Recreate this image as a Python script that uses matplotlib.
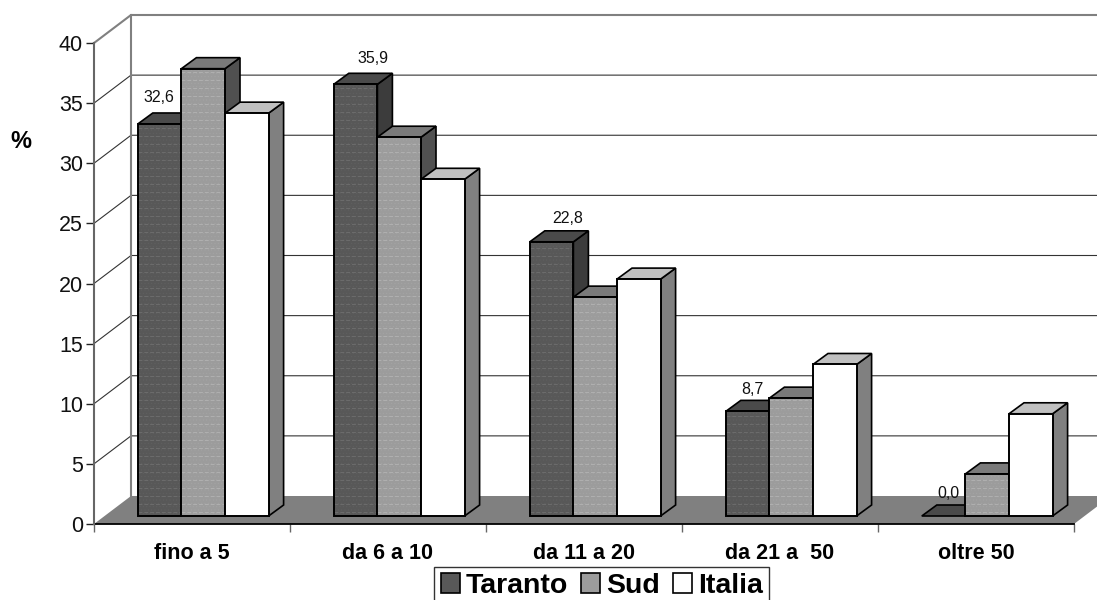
import numpy as np
import matplotlib
matplotlib.use("Agg")
import matplotlib.pyplot as plt
from matplotlib.patches import Polygon, Patch

plt.rcParams['font.family'] = ['Liberation Sans', 'DejaVu Sans']
plt.rcParams['hatch.linewidth'] = 0.35

categories = ['fino a 5', 'da 6 a 10', 'da 11 a 20', 'da 21 a  50', 'oltre 50']
taranto = [32.6, 35.9, 22.8, 8.7, 0.0]
sud = [37.2, 31.5, 18.2, 9.8, 3.5]
italia = [33.5, 28.0, 19.7, 12.6, 8.5]
series_names = ['Taranto', 'Sud', 'Italia']
y_ticks = [0, 5, 10, 15, 20, 25, 30, 35, 40]

# front, top, side colours for each series
face = ['#585858', '#9c9c9c', '#ffffff']
top = ['#4a4a4a', '#7a7a7a', '#c0c0c0']
side = ['#3c3c3c', '#505050', '#808080']
hatch_col = ['#606060', '#a4a4a4', None]
dash_col = ['#6c6c6c', '#b0b0b0', None]

# label nudges in pixels, the original labels are not evenly placed
label_dx = [-1, 17, 16, 5, 5]
label_dy = [26, 26, 23, 22, 23]

W, H = 1097, 600
fig = plt.figure(figsize=(W / 100, H / 100), dpi=100)
ax = fig.add_axes([94 / W, (H - 524) / H, 980 / W, 481 / H])
ax.set_xlim(0, 5)
ax.set_ylim(0, 40)

# pixel sizes to data units
px_x = 5 / 980
px_y = 40 / 481
wall_dx, wall_dy = 37 * px_x, 28 * px_y
base_dx, base_dy = 10 * px_x, 8 * px_y
bar_dx, bar_dy = 15 * px_x, 11 * px_y
bar_w = 43.6 * px_x
group_pad = 33.8 * px_x


def poly(pts, **kw):
    p = Polygon(pts, closed=True, clip_on=False, **kw)
    ax.add_patch(p)
    return p


# floor
poly([(0, 0), (5, 0), (5 + wall_dx, wall_dy), (wall_dx, wall_dy)], fc='#808080', ec='none', zorder=1)

# walls and grid
for v in y_ticks[1:-1]:
    ax.plot([0, wall_dx, 5 + wall_dx], [v, v + wall_dy, v + wall_dy], color='#333333', lw=0.8,
            clip_on=False, zorder=1, solid_joinstyle='miter')
ax.plot([wall_dx, wall_dx], [wall_dy, 40 + wall_dy], color='#808080', lw=1.5, clip_on=False, zorder=1.5)
ax.plot([0, wall_dx, 5 + wall_dx], [40, 40 + wall_dy, 40 + wall_dy], color='#808080', lw=1.5,
        clip_on=False, zorder=1.5)

# bars, drawn back to front from left to right
for i in range(len(categories)):
    for s, vals in enumerate([taranto, sud, italia]):
        v = vals[i]
        x0 = i + group_pad + base_dx + s * bar_w
        x1 = x0 + bar_w
        y0 = base_dy
        y1 = y0 + v
        z = 3 + i + s * 0.1
        poly([(x1, y0), (x1 + bar_dx, y0 + bar_dy), (x1 + bar_dx, y1 + bar_dy), (x1, y1)],
             fc=side[s], ec='black', lw=1.2, zorder=z, joinstyle='miter')
        poly([(x0, y1), (x1, y1), (x1 + bar_dx, y1 + bar_dy), (x0 + bar_dx, y1 + bar_dy)],
             fc=top[s], ec='black', lw=1.2, zorder=z, joinstyle='miter')
        if v > 0:
            if hatch_col[s]:
                poly([(x0, y0), (x1, y0), (x1, y1), (x0, y1)], fc=face[s], ec=hatch_col[s],
                     lw=0, hatch='.....', zorder=z + 0.01)
                # faint dashed bands of the original fill pattern
                ax.hlines(np.arange(y0 + 4 * px_y, y1, 8 * px_y), x0, x1, color=dash_col[s], lw=0.7,
                          linestyles=(0, (4, 2)), zorder=z + 0.015)
            poly([(x0, y0), (x1, y0), (x1, y1), (x0, y1)], fc=face[s] if not hatch_col[s] else 'none',
                 ec='black', lw=1.4, zorder=z + 0.02, joinstyle='miter')

# value labels above the Taranto bars
for i, v in enumerate(taranto):
    ax.text(i + group_pad + base_dx + bar_w * 0.5 + label_dx[i] * px_x, v + base_dy + label_dy[i] * px_y,
            f'{v:.1f}'.replace('.', ','), ha='center', va='center', fontsize=11.5, color='#111111',
            zorder=20, clip_on=False)

# axes lines and ticks
for name in ['top', 'right']:
    ax.spines[name].set_visible(False)
ax.spines['left'].set_color('#666666')
ax.spines['left'].set_linewidth(1.5)
ax.spines['bottom'].set_color('black')
ax.spines['bottom'].set_linewidth(1.3)
ax.spines['bottom'].set_zorder(2)
ax.patch.set_visible(False)

ax.set_yticks(y_ticks)
ax.tick_params(axis='y', length=6, width=1, color='#222222', labelsize=15.5, pad=2, labelcolor='#111111')
ax.set_xticks(np.arange(6))
ax.set_xticklabels([])
ax.tick_params(axis='x', which='major', length=6, width=1, color='#666666')
ax.set_xticks(np.arange(5) + 0.5, minor=True)
ax.set_xticklabels(categories, minor=True, fontsize=15.5, fontweight='bold')
ax.tick_params(axis='x', which='minor', length=0, pad=14)

fig.text(21 / W, 1 - 141 / H, '%', fontsize=17, fontweight='bold', ha='center', va='center')

handles = [Patch(facecolor=face[k], edgecolor='black', linewidth=1.2) for k in range(3)]
leg = ax.legend(handles, series_names, ncol=3, loc='upper center', bbox_to_anchor=(0.518, -0.0885),
                frameon=True, fancybox=False, framealpha=1, edgecolor='#333333',
                prop={'size': 20.5, 'weight': 'bold'}, handlelength=0.68, handleheight=0.68,
                handletextpad=0.2, columnspacing=0.45, borderpad=0.22, borderaxespad=0)
leg.get_frame().set_linewidth(1)

fig.savefig('out.png', dpi=100)
